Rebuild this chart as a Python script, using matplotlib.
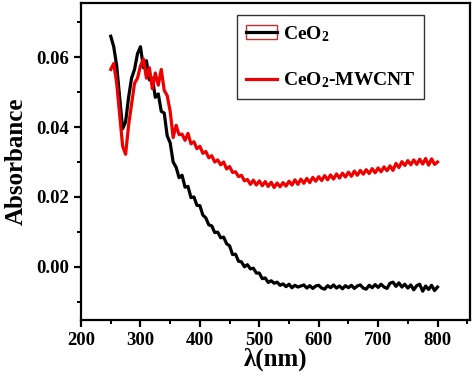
import numpy as np
import matplotlib
matplotlib.use('Agg')
import matplotlib.pyplot as plt
from matplotlib.lines import Line2D
from matplotlib.patches import Rectangle

plt.rcParams['font.family'] = ['Liberation Serif', 'DejaVu Serif']
plt.rcParams['font.weight'] = 'bold'
plt.rcParams['mathtext.default'] = 'regular'

# wavelength (nm), 5 nm steps
wl = np.arange(250, 801, 5)

# CeO2 absorbance
ceo2 = [0.0660, 0.0630, 0.0575, 0.0485, 0.0395, 0.0415, 0.0485, 0.0540, 0.0565, 0.0610,
        0.0630, 0.0570, 0.0590, 0.0535, 0.0540, 0.0485, 0.0495, 0.0445, 0.0440, 0.0375,
        0.0355, 0.0300, 0.0285, 0.0255, 0.0262, 0.0228, 0.0230, 0.0198, 0.0200, 0.0176,
        0.0175, 0.0148, 0.0140, 0.0120, 0.0117, 0.0098, 0.0099, 0.0083, 0.0085, 0.0066,
        0.0060, 0.0035, 0.0036, 0.0016, 0.0014, 0.0000, 0.0006, -0.0006, -0.0004, -0.0018,
        -0.0018, -0.0034, -0.0032, -0.0045, -0.0040, -0.0047, -0.0044, -0.0053, -0.0049, -0.0057,
        -0.0050, -0.0060, -0.0053, -0.0058, -0.0055, -0.0052, -0.0061, -0.0054, -0.0062, -0.0055,
        -0.0053, -0.0061, -0.0064, -0.0054, -0.0060, -0.0052, -0.0061, -0.0055, -0.0063, -0.0054,
        -0.0060, -0.0053, -0.0062, -0.0055, -0.0052, -0.0061, -0.0064, -0.0053, -0.0060, -0.0051,
        -0.0059, -0.0050, -0.0058, -0.0062, -0.0047, -0.0044, -0.0056, -0.0046, -0.0058, -0.0050,
        -0.0061, -0.0052, -0.0066, -0.0054, -0.0050, -0.0070, -0.0055, -0.0065, -0.0053, -0.0068,
        -0.0058]

# CeO2-MWCNT absorbance
mwcnt = [0.0565, 0.0582, 0.0525, 0.0435, 0.0345, 0.0322, 0.0405, 0.0465, 0.0525, 0.0540,
         0.0575, 0.0595, 0.0540, 0.0570, 0.0510, 0.0555, 0.0520, 0.0565, 0.0505, 0.0490,
         0.0445, 0.0370, 0.0405, 0.0378, 0.0380, 0.0362, 0.0382, 0.0352, 0.0358, 0.0338,
         0.0345, 0.0325, 0.0330, 0.0312, 0.0318, 0.0300, 0.0306, 0.0292, 0.0300, 0.0280,
         0.0287, 0.0270, 0.0272, 0.0258, 0.0262, 0.0246, 0.0250, 0.0236, 0.0248, 0.0234,
         0.0246, 0.0232, 0.0244, 0.0230, 0.0242, 0.0227, 0.0240, 0.0229, 0.0241, 0.0231,
         0.0245, 0.0234, 0.0249, 0.0236, 0.0251, 0.0239, 0.0253, 0.0241, 0.0256, 0.0245,
         0.0258, 0.0247, 0.0261, 0.0249, 0.0263, 0.0251, 0.0266, 0.0254, 0.0268, 0.0257,
         0.0271, 0.0259, 0.0274, 0.0262, 0.0276, 0.0265, 0.0278, 0.0267, 0.0281, 0.0269,
         0.0283, 0.0272, 0.0286, 0.0275, 0.0289, 0.0276, 0.0296, 0.0284, 0.0301, 0.0290,
         0.0304, 0.0292, 0.0306, 0.0293, 0.0308, 0.0294, 0.0310, 0.0291, 0.0309, 0.0293,
         0.0300]

fig = plt.figure(figsize=(4.74, 3.84), dpi=100)
ax = fig.add_axes([0.171, 0.167, 0.821, 0.825])

ax.plot(wl, ceo2, color='black', lw=2.3)
ax.plot(wl, mwcnt, color='#ee0000', lw=2.3)

ax.set_xlim(200, 855)
ax.set_ylim(-0.0152, 0.0755)
ax.set_xticks([200, 300, 400, 500, 600, 700, 800])
ax.set_xticks(np.arange(250, 851, 100), minor=True)
ax.set_yticks([0.00, 0.02, 0.04, 0.06])
ax.set_yticks([-0.01, 0.01, 0.03, 0.05, 0.07], minor=True)
ax.tick_params(which='major', direction='out', length=5, width=1.6, labelsize=13.5,
               top=False, right=False)
ax.tick_params(which='minor', direction='out', length=3, width=1.4, top=False, right=False)
for s in ax.spines.values():
    s.set_linewidth(1.6)

ax.set_xlabel('λ(nm)', fontsize=18, fontweight='bold', labelpad=-1)
ax.set_ylabel('Absorbance', fontsize=18, fontweight='bold', labelpad=6)

h1 = (Rectangle((0, 0), 1, 1, facecolor='none', edgecolor='#c03030', lw=1),
      Line2D([], [], color='black', lw=2.3))
h2 = Line2D([], [], color='#ee0000', lw=2.3)
leg = ax.legend([h1, h2], ['CeO$_2$', 'CeO$_2$-MWCNT'], loc='upper left',
                bbox_to_anchor=(0.401, 0.962), fontsize=14, frameon=True,
                fancybox=False, edgecolor='black', labelspacing=1.4,
                handlelength=1.6, handletextpad=0.3, borderpad=0.45, borderaxespad=0)
leg.get_frame().set_linewidth(1.0)

fig.savefig('out.png', dpi=100)
